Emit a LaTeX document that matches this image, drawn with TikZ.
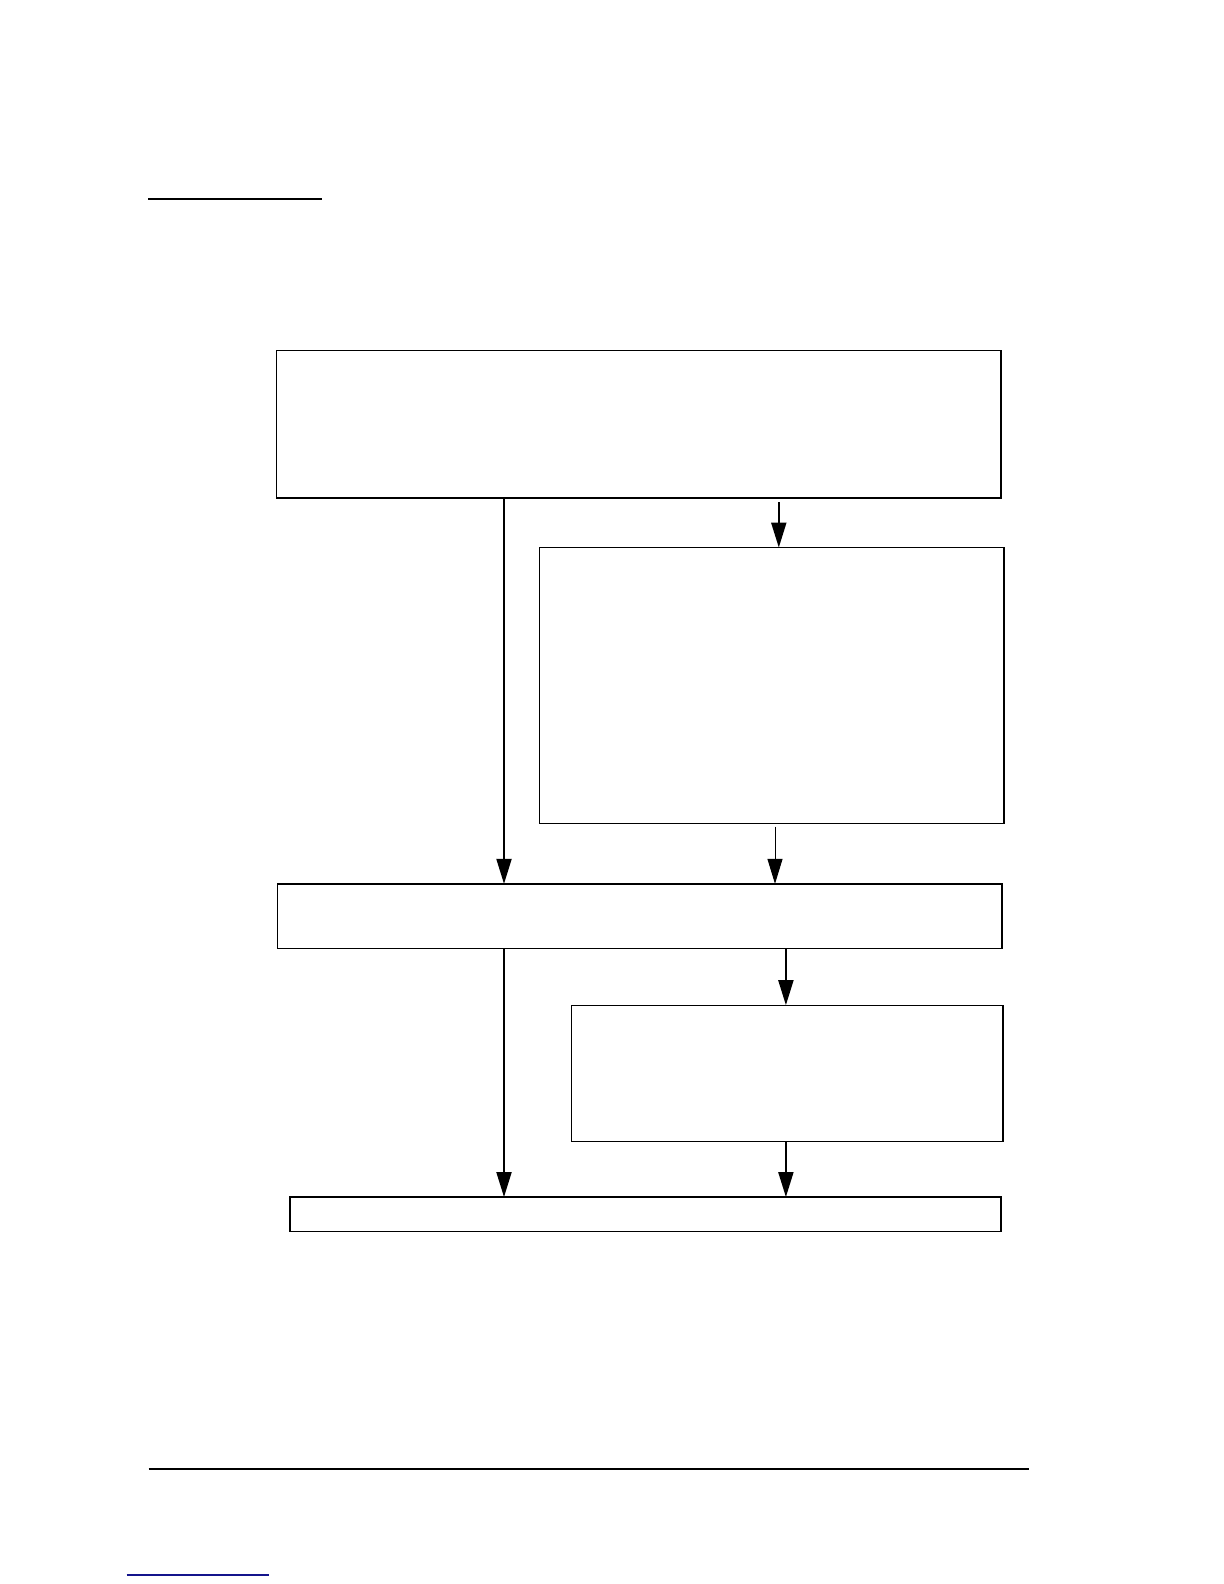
\documentclass[tikz,border=0pt]{standalone}
\usetikzlibrary{arrows.meta}
\definecolor{link blue}{RGB}{20,20,140}
\tikzset{
  flow box/.style 2 args={
    draw,
    line width=0.65bp,
    inner sep=0pt,
    outer sep=0pt,
    minimum width={#1*0.5bp},
    minimum height={#2*0.5bp},
  },
  flow arrow/.style={
    line width=1bp,
    -{Triangle[length=12.5bp,width=7.5bp]},
  },
  thin arrow/.style={
    flow arrow,
    line width=0.5bp,
  },
  page rule/.style={
    line width=1bp,
  }
}

\begin{document}
\begin{tikzpicture}[x=0.5bp,y=-0.5bp]
        \useasboundingbox (0,0) rectangle (1224,1584);

        \node [flow box={724.2}{147.5}] (top) at (638.9,424.2) {};
        \node [flow box={464.6}{275.7}] (mid) at (771.7,685.4) {};
        \node [flow box={724.2}{64.7}] (join) at (639.9,916.2) {};
        \node [flow box={431.3}{136.3}] (side) at (787.4,1073.3) {};
        \node [flow box={711.1}{34.3}] (bottom) at (645.5,1214.2) {};

        \coordinate (left line) at (504,0);
        \coordinate (gap start) at (778.8,502);
        \coordinate (mid out) at (775,826.5);
        \coordinate (side line) at (785.9,0);

        \draw [flow arrow] (top.south -| left line) -- (join.north -| left line);
        \draw [flow arrow] (gap start) -- (mid.north -| gap start);
        \draw [thin arrow] (mid out) -- (join.north -| mid out);
        \draw [flow arrow] (join.south -| side line) -- (side.north -| side line);
        \draw [flow arrow] (join.south -| left line) -- (bottom.north -| left line);
        \draw [flow arrow] (side.south -| side line) -- (bottom.north -| side line);

        \draw [page rule] (148,198.5) -- (322,198.5);
        \draw [page rule] (148.5,1469) -- (1029,1469);
        \draw [link blue, line width=0.6bp] (126.7,1575) -- (269.3,1575);
      \end{tikzpicture}
\end{document}
